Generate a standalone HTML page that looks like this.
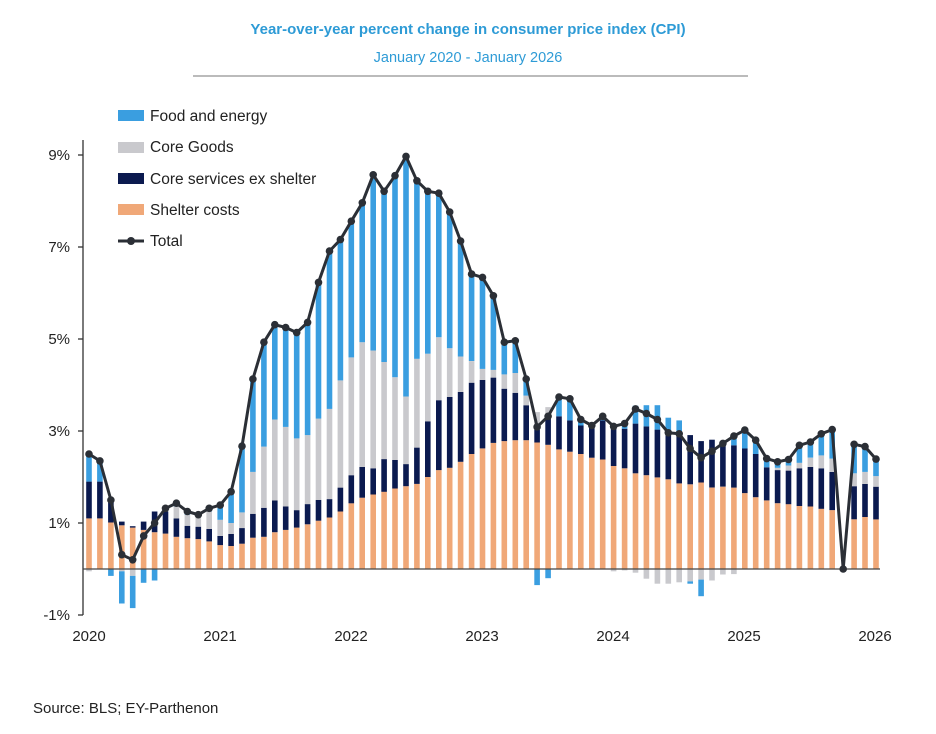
<!DOCTYPE html>
<html><head><meta charset="utf-8"><style>
body{margin:0;background:#fff;width:936px;height:729px;overflow:hidden;font-family:"Liberation Sans",sans-serif}
</style></head><body>
<svg id="c" width="936" height="729" xmlns="http://www.w3.org/2000/svg" font-family="Liberation Sans, sans-serif">
<text x="468" y="34" text-anchor="middle" font-size="15" font-weight="bold" fill="#2e9bd6">Year-over-year percent change in consumer price index (CPI)</text>
<text x="468" y="62" text-anchor="middle" font-size="14.5" fill="#2e9bd6">January 2020 - January 2026</text>
<line x1="193" y1="76" x2="748" y2="76" stroke="#777" stroke-width="1"/>
<g font-size="15.5" fill="#222">
<rect x="118" y="110" width="26" height="11" fill="#3a9ee0"/><text x="150" y="121">Food and energy</text>
<rect x="118" y="142" width="26" height="11" fill="#c9c9cd"/><text x="150" y="152">Core Goods</text>
<rect x="118" y="173" width="26" height="11" fill="#0b1a4f"/><text x="150" y="184">Core services ex shelter</text>
<rect x="118" y="204" width="26" height="11" fill="#f0a878"/><text x="150" y="215">Shelter costs</text>
<line x1="118" y1="241" x2="144" y2="241" stroke="#2b2f36" stroke-width="3"/><circle cx="131" cy="241" r="4" fill="#2b2f36"/><text x="150" y="246">Total</text>
</g>
<g font-size="15" fill="#222" text-anchor="end">
<text x="70" y="160">9%</text><text x="70" y="252">7%</text><text x="70" y="344">5%</text><text x="70" y="436">3%</text><text x="70" y="528">1%</text><text x="70" y="620">-1%</text>
</g>
<g stroke="#333" stroke-width="1.3">
<line x1="83" y1="140" x2="83" y2="615"/>
<line x1="78" y1="155" x2="83" y2="155"/><line x1="78" y1="247" x2="83" y2="247"/><line x1="78" y1="339" x2="83" y2="339"/><line x1="78" y1="431" x2="83" y2="431"/><line x1="78" y1="523" x2="83" y2="523"/><line x1="78" y1="615" x2="83" y2="615"/>
</g>
<g font-size="15" fill="#222" text-anchor="middle">
<text x="89" y="641">2020</text><text x="220" y="641">2021</text><text x="351" y="641">2022</text><text x="482" y="641">2023</text><text x="613" y="641">2024</text><text x="744" y="641">2025</text><text x="875" y="641">2026</text>
</g>
<text x="33" y="713" font-size="15" fill="#222">Source: BLS; EY-Parthenon</text>
<g id="bars"></g>
<line x1="83" y1="569" x2="880" y2="569" stroke="#444" stroke-width="1.2"/>
<g id="line"></g>
</svg>
<script>
// [S, C-top, G-top, T, Fneg, Gneg, Ftop]
var S=[1.10,1.10,1.01,0.95,0.9,0.85,0.8,0.77,0.7,0.67,0.65,0.6,0.52,0.5,0.55,0.68,0.7,0.8,0.85,0.9,0.97,1.05,1.12,1.25,1.43,1.55,1.62,1.68,1.75,1.8,1.85,2.0,2.15,2.2,2.33,2.5,2.62,2.74,2.78,2.8,2.8,2.75,2.7,2.6,2.55,2.5,2.42,2.38,2.24,2.19,2.08,2.04,1.99,1.95,1.86,1.84,1.88,1.77,1.79,1.77,1.65,1.56,1.49,1.43,1.41,1.37,1.36,1.31,1.28,0,1.08,1.13,1.08];
var C=[1.9,1.9,1.5,1.03,0.93,1.03,1.25,1.25,1.1,0.94,0.92,0.87,0.72,0.76,0.89,1.2,1.33,1.49,1.36,1.28,1.41,1.5,1.52,1.77,2.04,2.22,2.19,2.39,2.37,2.28,2.64,3.21,3.67,3.74,3.85,4.05,4.11,4.16,3.92,3.83,3.56,3.03,3.34,3.32,3.23,3.12,3.14,3.23,3.05,3.05,3.16,3.10,3.03,2.94,2.93,2.91,2.78,2.81,2.76,2.69,2.62,2.50,2.21,2.15,2.14,2.19,2.22,2.19,2.11,0,1.80,1.85,1.79];
var G=[0,0,0,0,0,0,0,1.32,1.36,1.18,1.14,1.25,1.07,1.0,1.23,2.11,2.66,3.25,3.09,2.84,2.91,3.27,3.48,4.1,4.6,4.93,4.75,4.5,4.17,3.75,4.57,4.68,5.04,4.8,4.62,4.52,4.35,4.33,4.23,4.26,3.77,3.41,3.52,0,0,0,0,0,0,0,0,0,0,0,0,0,0,0,0,0,0,0,0,2.2,2.25,2.31,2.42,2.47,2.40,0,2.08,2.11,2.02];
var T=[2.5,2.35,1.5,0.31,0.2,0.72,1.0,1.32,1.43,1.25,1.18,1.32,1.39,1.68,2.67,4.13,4.93,5.31,5.25,5.14,5.36,6.23,6.91,7.16,7.56,7.96,8.57,8.21,8.55,8.97,8.44,8.21,8.17,7.76,7.13,6.41,6.34,5.94,4.93,4.96,4.13,3.09,3.32,3.74,3.7,3.25,3.12,3.32,3.10,3.16,3.48,3.38,3.25,2.96,2.94,2.62,2.42,2.56,2.73,2.89,3.02,2.80,2.40,2.33,2.38,2.69,2.76,2.94,3.03,0,2.71,2.66,2.39];
var Fn={2:-0.15,3:-0.7,4:-0.7,5:-0.3,6:-0.25,41:-0.35,42:-0.2,56:-0.36,55:-0.05};
var Gn={0:-0.05,4:-0.15,3:-0.05,48:-0.05,49:-0.03,50:-0.08,51:-0.21,52:-0.32,53:-0.32,54:-0.29,55:-0.27,56:-0.23,57:-0.25,58:-0.12,59:-0.11,8:-0.0};
var Ft={50:3.55,51:3.56,52:3.56,53:3.29,54:3.23};
function y(v){return 569-v*46;}
var b='',pts=[],l='';
for(var i=0;i<73;i++){
 var x=89+i*10.93,w=5.6,x0=x-w/2;
 function r(a,bv,c){if(bv>a)b+='<rect x="'+x0.toFixed(1)+'" y="'+y(bv).toFixed(1)+'" width="'+w+'" height="'+((bv-a)*46).toFixed(1)+'" fill="'+c+'"/>';}
 if(i==69){pts.push([x,y(0)]);continue;}
 var s=S[i],c=Math.max(C[i],s),g=Math.max(G[i],c);
 r(0,s,'#f0a878');r(s,c,'#0b1a4f');r(c,g,'#c9c9cd');
 var ft=Ft[i]!==undefined?Ft[i]:T[i];r(g,ft,'#3a9ee0');
 var gn=Gn[i]||0,fn=Fn[i]||0;
 r(gn,0,'#c9c9cd');r(gn+fn,gn,'#3a9ee0');
 pts.push([x,y(T[i])]);
}
document.getElementById('bars').innerHTML=b;
var d=pts.map(function(p,k){return (k?'L':'M')+p[0].toFixed(1)+' '+p[1].toFixed(1);}).join(' ');
l='<path d="'+d+'" fill="none" stroke="#2b2f36" stroke-width="3" stroke-linejoin="round"/>';
pts.forEach(function(p){l+='<circle cx="'+p[0].toFixed(1)+'" cy="'+p[1].toFixed(1)+'" r="3.8" fill="#2b2f36"/>';});
document.getElementById('line').innerHTML=l;
</script>
</body></html>
